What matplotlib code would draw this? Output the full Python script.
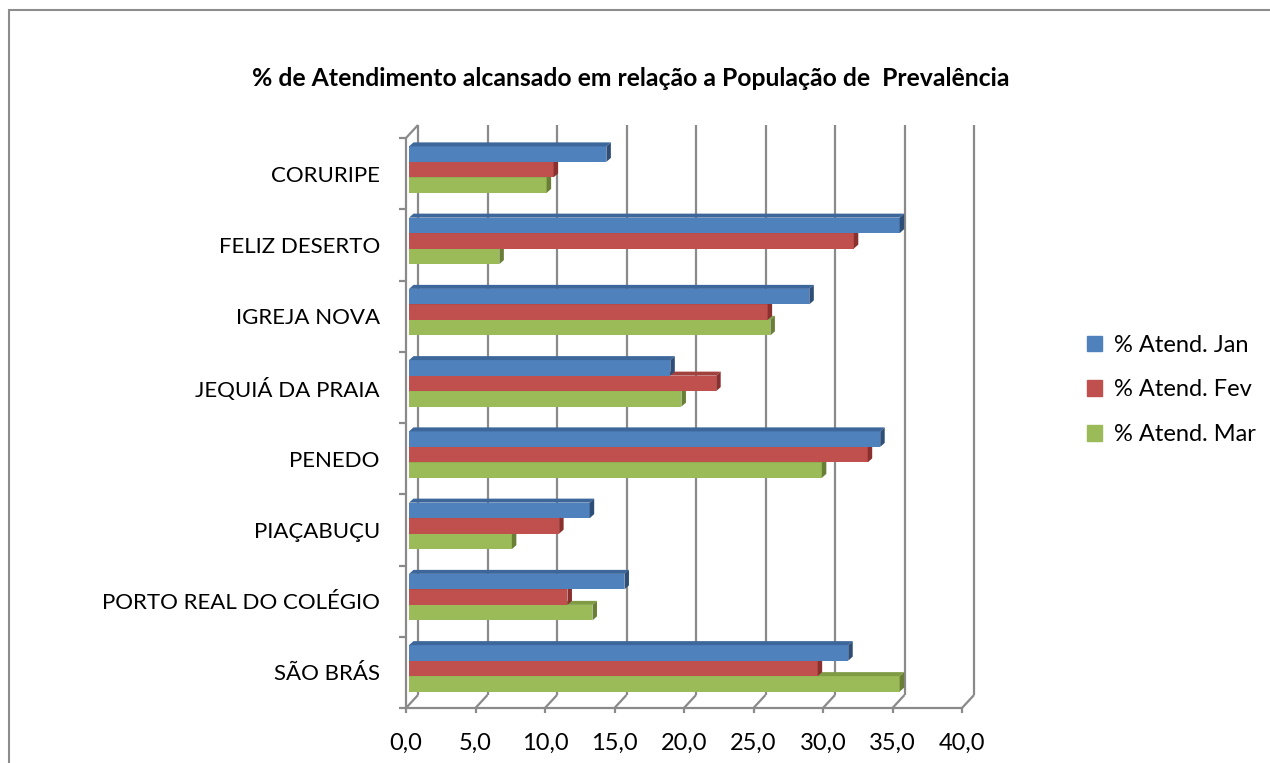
import numpy as np
import matplotlib.pyplot as plt
from matplotlib.patches import Polygon, Rectangle
from matplotlib.transforms import ScaledTranslation

plt.rcParams['font.family'] = ['Lato', 'DejaVu Sans']

municipios = ["CORURIPE", "FELIZ DESERTO", "IGREJA NOVA", "JEQUIÁ DA PRAIA",
              "PENEDO", "PIAÇABUÇU", "PORTO REAL DO COLÉGIO", "SÃO BRÁS"]
atend_jan = [14.2, 35.3, 28.8, 18.8, 33.9, 13.0, 15.5, 31.6]
atend_fev = [10.4, 32.0, 25.8, 22.1, 33.0, 10.8, 11.4, 29.4]
atend_mar = [9.9, 6.5, 26.0, 19.6, 29.7, 7.4, 13.2, 35.3]
series_labels = ["% Atend. Jan", "% Atend. Fev", "% Atend. Mar"]
x_ticks = [0, 5, 10, 15, 20, 25, 30, 35, 40]
x_tick_labels = ["0,0", "5,0", "10,0", "15,0", "20,0", "25,0", "30,0", "35,0", "40,0"]
titulo = "% de Atendimento alcansado em relação a População de  Prevalência"

# front / top / side colours per series
cores = [("#4F81BD", "#3D679B", "#2E4E78"),
         ("#C0504D", "#A2403D", "#8A302E"),
         ("#9BBB59", "#7F9B44", "#687F35")]

W, H = 1270, 763
fig = plt.figure(figsize=(W / 100, H / 100), dpi=100)

# axes box = plane of the bar fronts (pixels)
a_l, a_r, a_t, a_b = 409, 965, 134, 704
ax = fig.add_axes([a_l / W, 1 - a_b / H, (a_r - a_l) / W, (a_b - a_t) / H])
ax.set_xlim(0, 40)
ax.set_ylim(len(municipios), 0)
for s in ax.spines.values():
    s.set_visible(False)

px = 40 / (a_r - a_l)
py = len(municipios) / (a_b - a_t)
n = len(municipios)
grid_c = "#8A8A8A"
lw = 1.6

# front and back offsets of the 3D box (pixels)
fx, fy = -3, 4
bx, by = 9, -9

def line(xs, ys):
    ax.plot(xs, ys, color=grid_c, lw=lw, clip_on=False, zorder=1,
            solid_capstyle="butt")

# back wall gridlines and floor
for k in x_ticks:
    line([k + bx * px, k + bx * px], [by * py, n + by * py])
    line([k + fx * px, k + bx * px], [n + fy * py, n + by * py])
    line([k + fx * px, k + fx * px], [n + fy * py, n + (fy + 5) * py])
line([x_ticks[0] + fx * px, x_ticks[-1] + fx * px], [n + fy * py, n + fy * py])

# left side edge with ticks
line([fx * px, fx * px], [fy * py, n + fy * py])
line([fx * px, bx * px], [fy * py, by * py])
for i in range(n + 1):
    line([(fx - 7) * px, fx * px], [i + fy * py, i + fy * py])

# 3D bars
h = 0.2175
dx, dy = 4.5 * px, -4 * py
centros = np.arange(n) + 0.5
series = [atend_jan, atend_fev, atend_mar]
desloc = [-h, 0, h]
for j in [2, 1, 0]:
    frente, topo, lado = cores[j]
    z = 3 + (2 - j)
    ys = centros + desloc[j]
    ax.barh(ys, series[j], height=h, color=frente, zorder=z, linewidth=0)
    for y, v in zip(ys, series[j]):
        y0, y1 = y - h / 2, y + h / 2
        ax.add_patch(Polygon([(0, y0), (v, y0), (v + dx, y0 + dy), (dx, y0 + dy)],
                             closed=True, facecolor=topo, edgecolor="none", zorder=z))
        ax.add_patch(Polygon([(v, y0), (v, y1), (v + dx, y1 + dy), (v + dx, y0 + dy)],
                             closed=True, facecolor=lado, edgecolor="none", zorder=z))

# ticks / labels
ax.set_xticks(x_ticks, x_tick_labels, fontsize=17)
ax.tick_params(axis="x", length=0, pad=21)
for lbl in ax.get_xticklabels():
    lbl.set_transform(lbl.get_transform() + ScaledTranslation(-3 / 100, 0, fig.dpi_scale_trans))
ax.set_yticks(centros, municipios, fontsize=16)
ax.tick_params(axis="y", length=0, pad=21)
for lbl in ax.get_yticklabels():
    lbl.set_transform(lbl.get_transform() + ScaledTranslation(0, -4 / 100, fig.dpi_scale_trans))

fig.text(631 / W, 1 - 78 / H, titulo, ha="center", va="center",
         fontsize=17.8, fontweight="bold")

handles = [Rectangle((0, 0), 1, 1, color=c[0]) for c in cores]
fig.legend(handles, series_labels, loc="center left",
           bbox_to_anchor=(1087 / W, 1 - 390 / H), frameon=False, fontsize=17,
           handlelength=0.64, handleheight=0.64, handletextpad=0.5,
           labelspacing=1.0, borderpad=0, borderaxespad=0)

fig.patches.append(Rectangle((9 / W, -0.1), 2, 1 - 10 / H + 0.1, transform=fig.transFigure,
                             fill=False, edgecolor="#8C8C8C", lw=1.5))

fig.savefig("out.png", dpi=100)
